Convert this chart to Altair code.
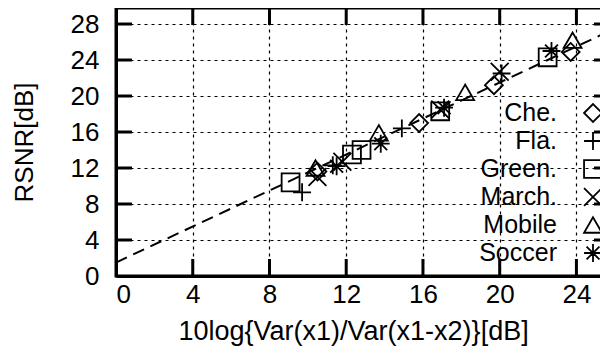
import altair as alt
import pandas as pd

series = ["Che.", "Fla.", "Green.", "March.", "Mobile", "Soccer"]
che_x = [10.5, 15.8, 19.7, 23.7]
che_y = [11.6, 17.0, 21.2, 24.9]
fla_x = [9.7, 11.3, 14.9, 20.1]
fla_y = [9.3, 12.3, 16.4, 22.5]
green_x = [9.1, 12.3, 12.8, 16.9, 22.5]
green_y = [10.4, 13.5, 14.0, 18.3, 24.3]
march_x = [10.5, 11.8, 16.9, 20.0]
march_y = [11.0, 12.7, 18.5, 22.7]
mobile_x = [10.4, 13.7, 18.2, 23.8]
mobile_y = [12.0, 15.9, 20.4, 26.2]
soccer_x = [11.5, 13.8, 17.1, 22.7]
soccer_y = [12.2, 14.7, 18.7, 25.0]

fit_x = [0, 26]
fit_y = [1.5, 27.5]

x_ticks = [0, 4, 8, 12, 16, 20, 24]
y_ticks = [0, 4, 8, 12, 16, 20, 24, 28]

shapes = [
    "diamond",
    "M-1,0L1,0M0,-1L0,1",
    "square",
    "M-1,-1L1,1M-1,1L1,-1",
    "triangle-up",
    "M-1,0L1,0M0,-1L0,1M-0.72,-0.72L0.72,0.72M-0.72,0.72L0.72,-0.72",
]

all_x = [che_x, fla_x, green_x, march_x, mobile_x, soccer_x]
all_y = [che_y, fla_y, green_y, march_y, mobile_y, soccer_y]
rows = []
for s, xs_, ys_ in zip(series, all_x, all_y):
    for a, b in zip(xs_, ys_):
        rows.append({"series": s, "x": a, "y": b})
df = pd.DataFrame(rows)
fit_df = pd.DataFrame({"x": fit_x, "y": fit_y})
xt_df = pd.DataFrame({"x": x_ticks[1:]})
yt_df = pd.DataFrame({"y": y_ticks[1:]})
leg_df = pd.DataFrame({"series": series})

W, H = 494, 268
FONT = "Liberation Sans"

xsc = alt.Scale(domain=[0, 25.75], nice=False, zero=False)
ysc = alt.Scale(domain=[0, 29.78], nice=False, zero=False)
shape_sc = alt.Scale(domain=series, range=shapes)
leg_y = alt.Scale(type="point", domain=series, range=[105, 245], padding=0)

x_axis = alt.Axis(
    values=x_ticks, grid=True, ticks=False, labelPadding=5,
    title="10log{Var(x1)/Var(x1-x2)}[dB]", titleAnchor="start", titleAlign="left",
    titleX=62, titleY=63, titleBaseline="alphabetic", titleFontSize=27,
)
y_axis = alt.Axis(
    values=y_ticks, grid=True, ticks=False, labelPadding=17,
    title="RSNR[dB]", titleX=-92, titleY=134, titleAlign="center",
    titleBaseline="middle", titleAngle=270,
)

X = alt.X("x:Q", scale=xsc, axis=x_axis)

points = alt.Chart(df).mark_point(
    filled=False, size=320, strokeWidth=1.8, color="black", opacity=1
).encode(
    x=X,
    y=alt.Y("y:Q", scale=ysc, axis=y_axis),
    shape=alt.Shape("series:N", scale=shape_sc, legend=None),
)

fit = alt.Chart(fit_df).mark_line(
    strokeDash=[12, 7], strokeWidth=2, color="black", clip=True
).encode(
    x=X,
    y=alt.Y("y:Q", scale=ysc, axis=None),
)

tick_bottom = alt.Chart(xt_df).mark_rule(strokeWidth=3, color="black").encode(
    x=X, y=alt.value(H), y2=alt.value(H - 17)
)
tick_top = alt.Chart(xt_df).mark_rule(strokeWidth=3, color="black").encode(
    x=X, y=alt.value(0), y2=alt.value(17)
)
tick_left = alt.Chart(yt_df).mark_rule(strokeWidth=3, color="black").encode(
    y=alt.Y("y:Q", scale=ysc, axis=None), x=alt.value(0), x2=alt.value(16)
)
tick_right = alt.Chart(yt_df).mark_rule(strokeWidth=3, color="black").encode(
    y=alt.Y("y:Q", scale=ysc, axis=None), x=alt.value(W - 16), x2=alt.value(W)
)

leg_text = alt.Chart(leg_df).mark_text(
    align="right", baseline="middle", fontSize=25, font=FONT, color="black"
).encode(
    x=alt.value(441),
    y=alt.Y("series:N", scale=leg_y, axis=None),
    text="series:N",
)
leg_sym = alt.Chart(leg_df).mark_point(
    filled=False, size=320, strokeWidth=1.8, color="black", opacity=1
).encode(
    x=alt.value(477),
    y=alt.Y("series:N", scale=leg_y, axis=None),
    shape=alt.Shape("series:N", scale=shape_sc, legend=None),
)

chart = alt.layer(
    fit, points, tick_bottom, tick_top, tick_left, tick_right, leg_text, leg_sym
).resolve_scale(y="independent").properties(
    width=W, height=H,
    autosize=alt.AutoSizeParams(type="none"),
    padding={"left": 108, "top": 0, "right": -10, "bottom": 70},
).configure_view(
    stroke="black", strokeWidth=3
).configure_axis(
    labelFont=FONT, titleFont=FONT, labelFontSize=26, titleFontSize=26,
    labelColor="black", titleColor="black", titleFontWeight="normal",
    domainColor="black", domainWidth=3,
    gridColor="black", gridDash=[3, 4], gridWidth=1.2, gridOpacity=1,
)

chart.save("out.html", embed_options={"renderer": "svg", "actions": False})
